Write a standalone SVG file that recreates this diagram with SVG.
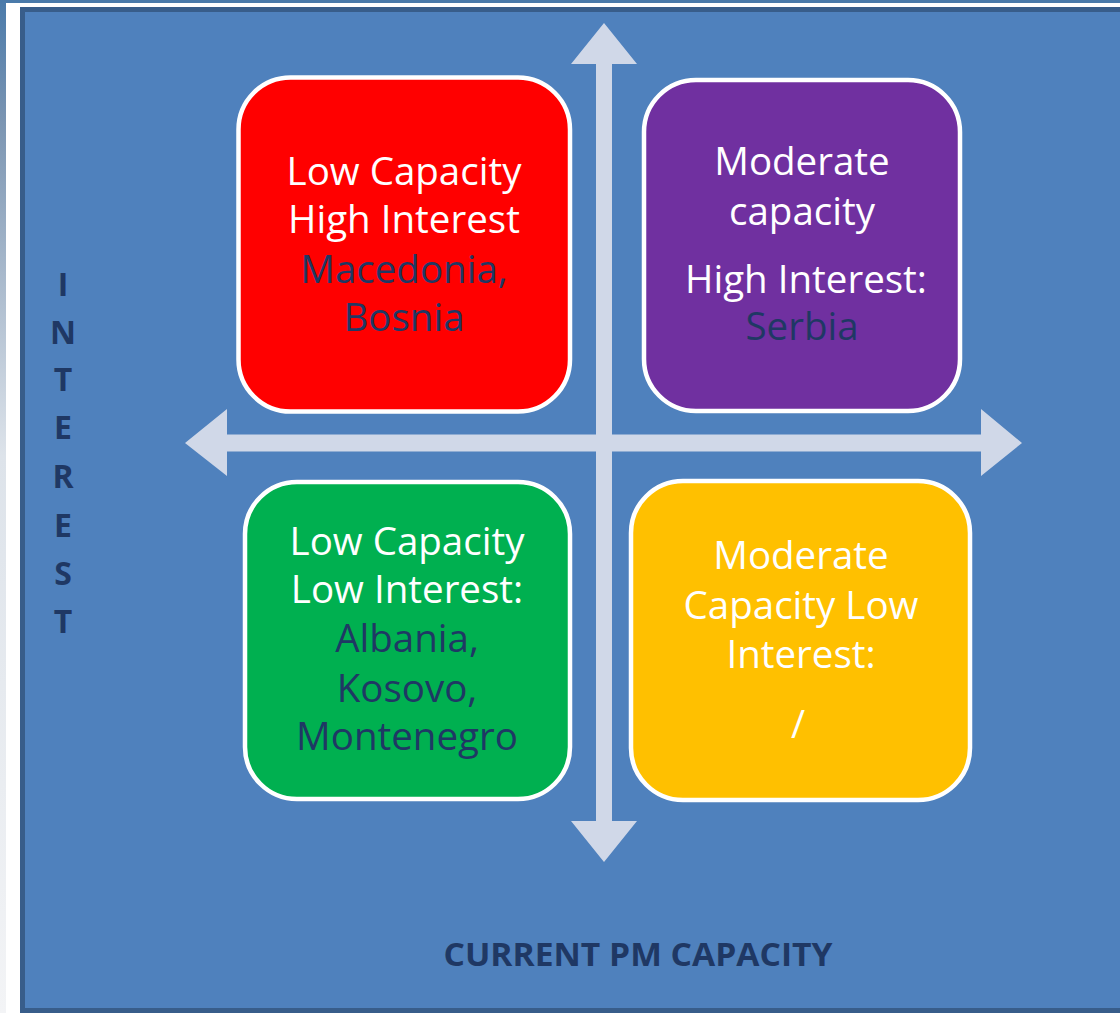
<svg xmlns="http://www.w3.org/2000/svg" width="1120" height="1013" viewBox="0 0 1120 1013">
  <defs>
    <linearGradient id="edge" x1="0" y1="0" x2="0" y2="1">
      <stop offset="0" stop-color="#4A7AAA"/>
      <stop offset="0.12" stop-color="#7B95B2"/>
      <stop offset="0.45" stop-color="#DDE3EA"/>
      <stop offset="1" stop-color="#F3F4F6"/>
    </linearGradient>
    <style>
      .box { stroke: #FFFFFF; stroke-width: 4.5; }
      .t { font-family: "Open Sans", "Liberation Sans", sans-serif; font-size: 38.5px; text-anchor: middle; }
      .w { fill: #FFFFFF; }
      .d { fill: #1F3864; }
      .lbl { font-family: "Open Sans", "Liberation Sans", sans-serif; font-weight: bold; font-size: 32px; fill: #1F3864; text-anchor: middle; }
      .arrow { fill: #D0D8E8; }
    </style>
  </defs>
  <rect x="0" y="0" width="1120" height="1013" fill="#FFFFFF"/>
  <rect x="0" y="0" width="6" height="1013" fill="url(#edge)"/>
  <rect x="0" y="0" width="1120" height="3" fill="#4A7AAA"/>
  <rect x="22.5" y="9.5" width="1110" height="1001" fill="#4F81BD" stroke="#385D8A" stroke-width="5"/>

  <g id="connectors">
    <polygon class="arrow" points="604,23 637,64 612,64 612,821 637,821 604,862 571,821 596,821 596,64 571,64"/>
    <polygon class="arrow" points="185,443 227,409 227,434.5 981,434.5 981,409 1022,443 981,476 981,451.5 227,451.5 227,476"/>
  </g>

  <g id="box-low-high">
    <rect class="box" x="238.5" y="77.5" width="331.5" height="334" rx="52" fill="#FF0000"/>
    <text class="t w" x="404" y="185">Low Capacity</text>
    <text class="t w" x="404" y="233">High Interest</text>
    <text class="t d" x="404" y="283">Macedonia,</text>
    <text class="t d" x="404" y="331">Bosnia</text>
  </g>

  <g id="box-mod-high">
    <rect class="box" x="644" y="80" width="316" height="331" rx="52" fill="#7030A0"/>
    <text class="t w" x="802" y="175">Moderate</text>
    <text class="t w" x="802" y="225">capacity</text>
    <text class="t w" x="806" y="293">High Interest:</text>
    <text class="t d" x="802" y="340">Serbia</text>
  </g>

  <g id="box-low-low">
    <rect class="box" x="245" y="482" width="325" height="317" rx="52" fill="#00B050"/>
    <text class="t w" x="407" y="555">Low Capacity</text>
    <text class="t w" x="407" y="603">Low Interest:</text>
    <text class="t d" x="407" y="652">Albania,</text>
    <text class="t d" x="407" y="702">Kosovo,</text>
    <text class="t d" x="407" y="750">Montenegro</text>
  </g>

  <g id="box-mod-low">
    <rect class="box" x="631" y="481" width="339" height="319" rx="52" fill="#FFC000"/>
    <text class="t w" x="801" y="569">Moderate</text>
    <text class="t w" x="801" y="619">Capacity Low</text>
    <text class="t w" x="801" y="668">Interest:</text>
    <text class="t w" x="798" y="738">/</text>
  </g>

  <g id="axis-labels">
    <text class="lbl" x="63" y="296">I</text>
    <text class="lbl" x="63" y="344">N</text>
    <text class="lbl" x="63" y="391">T</text>
    <text class="lbl" x="63" y="439">E</text>
    <text class="lbl" x="63" y="488">R</text>
    <text class="lbl" x="63" y="537">E</text>
    <text class="lbl" x="63" y="585">S</text>
    <text class="lbl" x="63" y="633">T</text>
    <text class="lbl" x="638" y="966" textLength="389" lengthAdjust="spacingAndGlyphs">CURRENT PM CAPACITY</text>
  </g>
</svg>
